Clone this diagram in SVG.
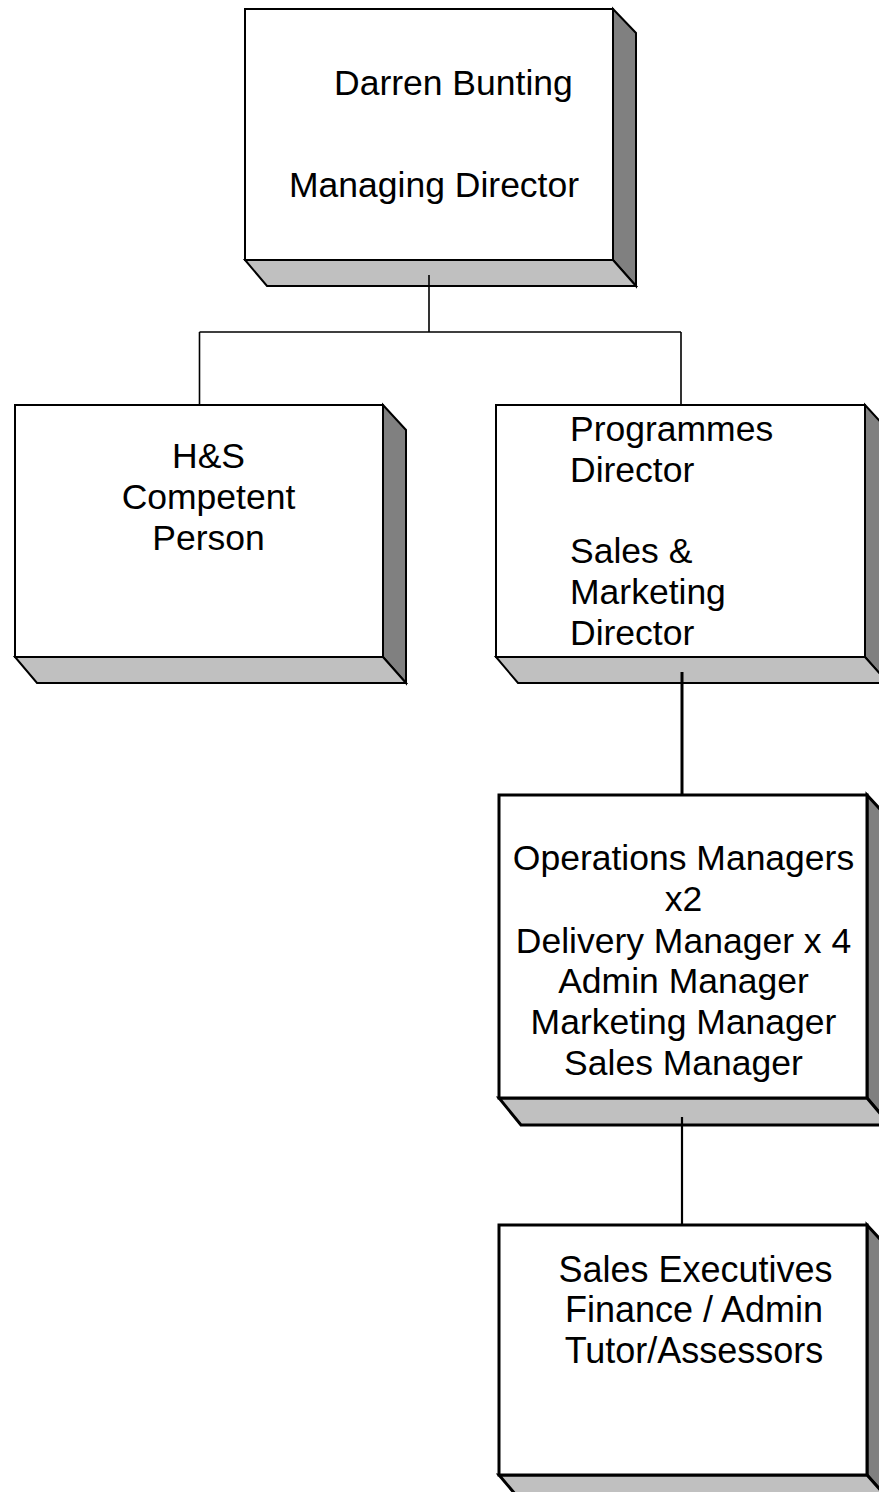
<svg xmlns="http://www.w3.org/2000/svg" width="879" height="1492" viewBox="0 0 879 1492">
<style>
.front{fill:#ffffff;stroke:#000;stroke-width:2;stroke-linejoin:miter}
.side{fill:#808080;stroke:#000;stroke-width:2;stroke-linejoin:miter}
.bottom{fill:#c0c0c0;stroke:#000;stroke-width:2;stroke-linejoin:miter}
.thick .front,.thick .side,.thick .bottom{stroke-width:3}
text{font-family:"Liberation Sans",Arial,sans-serif;font-size:35.5px;fill:#000}
.c{text-anchor:middle}
.conn{stroke:#000;stroke-width:1.6;fill:none}
.conn2{stroke:#000;stroke-width:3;fill:none}
</style>
<rect x="0" y="0" width="879" height="1492" fill="#ffffff"/>
<g id="node-md">
<polygon class="side" points="613,9 636,33 636,286 613,260"/>
<polygon class="bottom" points="245,260 613,260 636,286 267,286"/>
<rect class="front" x="245" y="9" width="368" height="251"/>
<text x="334" y="95">Darren Bunting</text>
<text x="289" y="197">Managing Director</text>
</g>
<g id="node-hs">
<polygon class="side" points="383,405 406,430 406,683 383,657"/>
<polygon class="bottom" points="15,657 383,657 406,683 37,683"/>
<rect class="front" x="15" y="405" width="368" height="252"/>
<text class="c" x="208.5" y="468">H&amp;S</text>
<text class="c" x="208.5" y="509">Competent</text>
<text class="c" x="208.5" y="550">Person</text>
</g>
<g id="node-pd">
<polygon class="side" points="865,405 888,430 888,683 865,657"/>
<polygon class="bottom" points="496,657 865,657 888,683 518,683"/>
<rect class="front" x="496" y="405" width="369" height="252"/>
<text x="570" y="441">Programmes</text>
<text x="570" y="482">Director</text>
<text x="570" y="563">Sales &amp;</text>
<text x="570" y="604">Marketing</text>
<text x="570" y="645">Director</text>
</g>
<g id="node-ops" class="thick">
<polygon class="side" points="867,795 890,820 890,1125 867,1098"/>
<polygon class="bottom" points="499,1098 867,1098 890,1125 521,1125"/>
<rect class="front" x="499" y="795" width="368" height="303"/>
<text class="c" x="683.5" y="870">Operations Managers</text>
<text class="c" x="683.5" y="911">x2</text>
<text class="c" x="683.5" y="953">Delivery Manager x 4</text>
<text class="c" x="683.5" y="993">Admin Manager</text>
<text class="c" x="683.5" y="1034">Marketing Manager</text>
<text class="c" x="683.5" y="1075">Sales Manager</text>
</g>
<g id="node-se" class="thick">
<polygon class="side" points="867,1225 890,1250 890,1501 867,1475"/>
<polygon class="bottom" points="499,1475 867,1475 890,1501 521,1501"/>
<rect class="front" x="499" y="1225" width="368" height="250"/>
<text class="c" x="695.5" y="1282" style="font-size:36px">Sales Executives</text>
<text class="c" x="694" y="1322" style="font-size:36px">Finance / Admin</text>
<text class="c" x="694" y="1363" style="font-size:36px">Tutor/Assessors</text>
</g>
<g id="connectors">
<path class="conn" d="M429,275 V332 M199.5,332 H681 M199.5,332 V405 M681,332 V405"/>
<path class="conn2" d="M682,672 V795"/>
<path class="conn" d="M682,1117 V1225" style="stroke-width:2.2"/>
</g>
</svg>
